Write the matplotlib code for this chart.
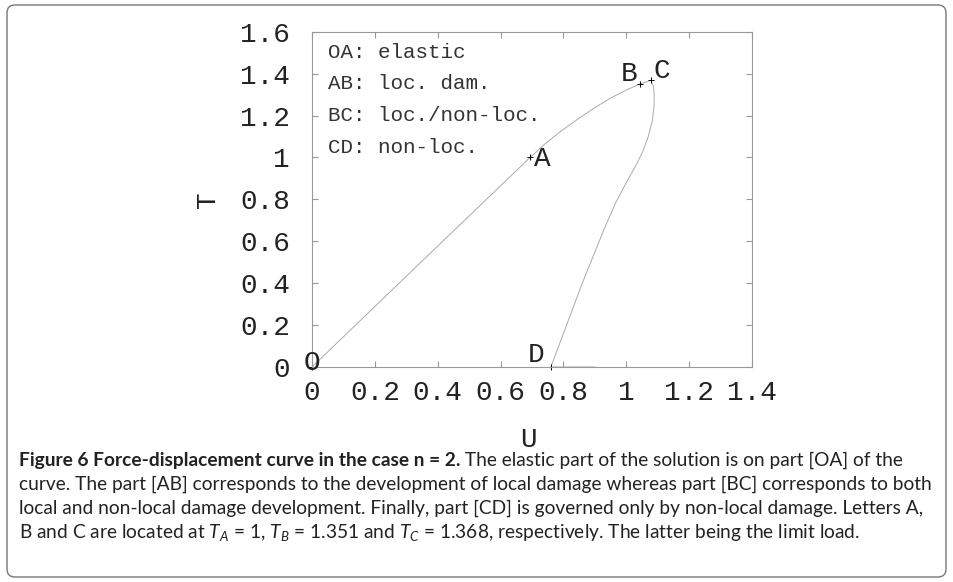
import matplotlib
matplotlib.use('Agg')
import matplotlib.pyplot as plt
from matplotlib.patches import FancyBboxPatch

# force-displacement curve: O -> A -> B -> C -> D -> along T=0
u_curve = [0.0, 0.35, 0.694, 0.74, 0.79, 0.845, 0.896, 0.95, 1.0, 1.045, 1.078,
           1.086, 1.089, 1.088, 1.082, 1.07, 1.053, 1.03, 1.0, 0.965, 0.93, 0.895, 0.86, 0.825, 0.79, 0.76, 0.90]
t_curve = [0.0, 0.505, 1.0, 1.063, 1.123, 1.182, 1.234, 1.283, 1.322, 1.351, 1.368,
           1.34, 1.30, 1.24, 1.17, 1.10, 1.03, 0.96, 0.88, 0.78, 0.66, 0.53, 0.40, 0.26, 0.12, 0.0, 0.0]

# remarkable points
point_names = ['O', 'A', 'B', 'C', 'D']
point_u = [0.0, 0.694, 1.045, 1.078, 0.76]
point_t = [0.0, 1.0, 1.351, 1.368, 0.0]

legend_lines = ['OA: elastic', 'AB: loc. dam.', 'BC: loc./non-loc.', 'CD: non-loc.']

x_ticks = [0, 0.2, 0.4, 0.6, 0.8, 1.0, 1.2, 1.4]
x_labels = ['0', '0.2', '0.4', '0.6', '0.8', '1', '1.2', '1.4']
y_ticks = [0, 0.2, 0.4, 0.6, 0.8, 1.0, 1.2, 1.4, 1.6]
y_labels = ['0', '0.2', '0.4', '0.6', '0.8', '1', '1.2', '1.4', '1.6']

caption_bold = 'Figure 6 Force-displacement curve in the case n = 2.'
caption_lines = [
    ' The elastic part of the solution is on part [OA] of the',
    'curve. The part [AB] corresponds to the development of local damage whereas part [BC] corresponds to both',
    'local and non-local damage development. Finally, part [CD] is governed only by non-local damage. Letters A,',
    'B and C are located at $T_A$ = 1, $T_B$ = 1.351 and $T_C$ = 1.368, respectively. The latter being the limit load.',
]

mono = 'Liberation Mono'
plt.rcParams['mathtext.fontset'] = 'custom'
plt.rcParams['mathtext.rm'] = 'Lato'
plt.rcParams['mathtext.it'] = 'Lato:italic'

fig = plt.figure(figsize=(9.54, 5.82), dpi=100)
ax = fig.add_axes([312/954, 1-367/582, 440/954, 335.3/582])

ax.plot(u_curve, t_curve, color='#aaaaaa', lw=0.7)
ax.plot(point_u, point_t, '+', color='k', ms=5, mew=0.7, clip_on=False)

# point letters
offsets = {'O': (0, 3, 'center'), 'A': (3, -1, 'left'), 'B': (-2, 7, 'right'),
           'C': (2, 7, 'left'), 'D': (-5, 8.5, 'right')}
for name, u, t in zip(point_names, point_u, point_t):
    dx, dy, ha = offsets[name]
    ax.annotate(name, (u, t), xytext=(dx, dy), textcoords='offset points',
                ha=ha, va='center', fontsize=20, family=mono, color='#222222')

for i, line in enumerate(legend_lines):
    ax.text(0.036, 0.939 - 0.0945*i, line, transform=ax.transAxes, ha='left', va='center',
            fontsize=15, family=mono, color='#333333')

ax.set_xlim(0, 1.4)
ax.set_ylim(0, 1.6)
ax.set_xticks(x_ticks)
ax.set_xticklabels(x_labels, family=mono)
ax.set_yticks(y_ticks)
ax.set_yticklabels(y_labels, family=mono)
ax.tick_params(axis='both', direction='in', length=4, color='#999999', width=0.8,
               top=True, right=True, labelsize=20, labelcolor='#222222')
ax.tick_params(axis='x', pad=9)
ax.tick_params(axis='y', pad=16)
for s in ax.spines.values():
    s.set_color('#999999')
    s.set_linewidth(0.8)

ax.text(0.491, -0.218, 'U', transform=ax.transAxes, ha='center', va='center',
        fontsize=20, family=mono, color='#222222')
ax.text(-0.236, 0.5, 'T', transform=ax.transAxes, ha='center', va='center', rotation=90,
        fontsize=20, family=mono, color='#222222')

# caption
cap_x = 19/954
cap_size = 13.8
baselines = [466, 490, 514, 538]
bold = fig.text(cap_x, 1 - baselines[0]/582, caption_bold, ha='left', va='baseline',
                fontsize=cap_size, family='Lato', weight='bold', color='#222222')
fig.canvas.draw()
bb = bold.get_window_extent(fig.canvas.get_renderer())
fig.text(bb.x1/954, 1 - baselines[0]/582, caption_lines[0], ha='left', va='baseline',
         fontsize=cap_size, family='Lato', color='#222222')
for line, b in zip(caption_lines[1:], baselines[1:]):
    fig.text(cap_x, 1 - b/582, line, ha='left', va='baseline',
             fontsize=cap_size, family='Lato', color='#222222')

frame = FancyBboxPatch((7, 5), 939, 572, boxstyle='round,pad=0,rounding_size=8',
                       transform=None, fill=False, edgecolor='#777777', lw=1)
fig.add_artist(frame)

fig.savefig('out.png', dpi=100)
